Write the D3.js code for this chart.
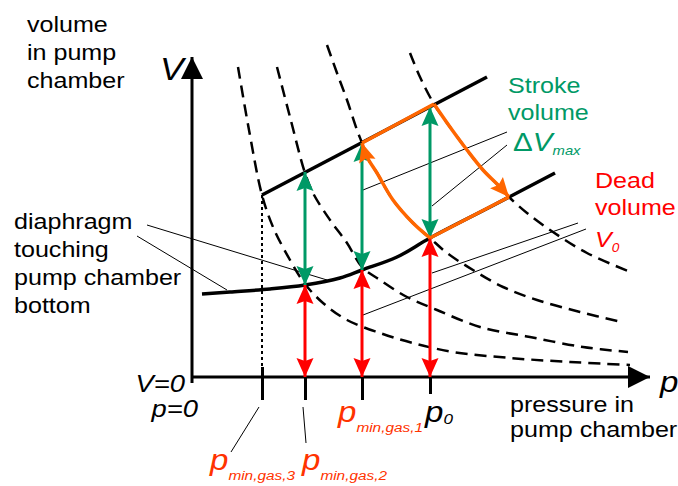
<!DOCTYPE html>
<html>
<head>
<meta charset="utf-8">
<script src="https://cdn.jsdelivr.net/npm/d3@7"></script>
<style>
  html, body { margin: 0; padding: 0; background: #fff; }
  svg { display: block; font-family: "Liberation Sans", Arial, sans-serif; }
</style>
</head>
<body>
<svg id="chart" width="678" height="486"></svg>
<script>
// Pressure p and pump-chamber volume V, arbitrary units.
const tickNames = ["min,gas,3", "min,gas,2", "min,gas,1", "0"];
const tickPressures = [7.0, 11.3, 17.0, 23.8];

// Stroke / dead volume at p_min,gas,2, p_min,gas,1 and p_0
const strokePressures = [11.3, 17.0, 23.8];
const deadVolumes = [9.2, 10.7, 13.9];
const maxVolumes = [20.5, 23.4, 27.0];

// Diaphragm end positions: fully deflected (top) and touching the bottom
const upperBoundary = [[7.0, 18.2], [29.5, 30.0]];
const lowerBoundary = [[1.0, 8.3], [3.8, 8.5], [7.8, 8.8], [11.3, 9.2], [14.8, 9.9], [17.0, 10.7],
  [20.5, 12.0], [23.8, 13.9], [30.0, 17.1], [36.3, 20.4]];

// Isotherms of the enclosed gas
const isothermA = [[4.6, 31.0], [5.7, 24.7], [7.0, 18.2], [8.1, 15.0], [9.8, 11.7], [11.3, 9.3],
  [13.1, 7.4], [15.5, 5.7], [18.8, 4.4], [22.1, 3.4], [26.1, 2.5], [31.8, 1.9], [37.8, 1.5], [43.8, 1.2]];
const isothermB = [[8.5, 31.0], [9.8, 26.0], [11.3, 20.4], [12.1, 18.4], [13.8, 15.7], [15.5, 13.4],
  [17.0, 11.0], [18.8, 9.7], [21.5, 8.0], [24.5, 6.7], [28.8, 5.0], [33.8, 4.0], [39.1, 3.0], [43.6, 2.5]];
const isothermC = [[13.5, 33.2], [14.5, 30.4], [15.5, 27.7], [16.5, 24.7], [17.0, 23.4], [17.5, 22.0],
  [18.5, 20.4], [20.1, 17.7], [22.1, 15.4], [23.8, 13.9], [25.5, 12.4], [28.1, 10.7], [31.1, 9.0],
  [34.5, 7.7], [38.8, 6.5], [43.0, 5.5]];
const isothermD = [[21.8, 32.4], [22.8, 30.0], [24.2, 27.3], [25.8, 25.0], [27.5, 22.7], [29.1, 20.7],
  [30.8, 19.0], [31.7, 18.0], [33.5, 16.4], [36.1, 14.5], [39.5, 12.4], [44.1, 10.4]];

// Pump cycle corners
const cycleTop = [[17.0, 23.4], [24.2, 27.3]];
const cycleBottom = [[31.7, 18.0], [23.8, 13.9]];

// Leader lines from the labels to the marks
const leaders = [
  [[-4.5, 15.2], [13.5, 9.7]],
  [[-5.5, 14.1], [3.5, 8.7]],
  [[31.5, 24.5], [17.1, 18.7]],
  [[31.5, 23.2], [24.0, 17.1]],
  [[38.6, 15.4], [24.0, 10.4]],
  [[39.4, 14.8], [17.1, 6.2]],
  [[6.7, -3.0], [3.9, -7.5]],
  [[11.1, -3.0], [11.4, -6.6]]
];

const GREEN = "#009966", RED = "#ff0000", ORANGE = "#ff6600", TICKRED = "#ff3300";
const SX = 1.14;

const svg = d3.select("#chart");
const x = d3.scaleLinear().domain([0, 46]).range([192, 652]);
const y = d3.scaleLinear().domain([0, 32]).range([377, 57]);

const straight = d3.line().x(d => x(d[0])).y(d => y(d[1]));
const smooth = d3.line().x(d => x(d[0])).y(d => y(d[1])).curve(d3.curveCatmullRom.alpha(0.5));

// Arrowheads
const defs = svg.append("defs");
function marker(id, color, len, half, notch) {
  defs.append("marker")
    .attr("id", id)
    .attr("markerUnits", "userSpaceOnUse")
    .attr("viewBox", `${-len - 1} ${-half - 1} ${len + 2} ${2 * half + 2}`)
    .attr("refX", 0).attr("refY", 0)
    .attr("markerWidth", len + 2).attr("markerHeight", 2 * half + 2)
    .attr("orient", "auto-start-reverse")
    .append("path")
    .attr("d", `M0,0L${-len},${-half}L${-len + notch},0L${-len},${half}Z`)
    .attr("fill", color);
}
marker("ah-axis", "#000", 22, 11, 0);
marker("ah-green", GREEN, 19, 8.5, 3);
marker("ah-red", RED, 19, 8.5, 3);
marker("ah-orange", ORANGE, 19, 8.5, 3);

// Isotherms
[isothermA, isothermB, isothermC, isothermD].forEach(iso => {
  svg.append("path").attr("d", smooth(iso))
    .attr("fill", "none").attr("stroke", "#000")
    .attr("stroke-width", 2.5).attr("stroke-dasharray", "12,7");
});

// Dotted line below the start of the upper boundary
svg.append("path").attr("d", straight([[tickPressures[0], upperBoundary[0][1]], [tickPressures[0], 1.0]]))
  .attr("fill", "none").attr("stroke", "#000").attr("stroke-width", 2).attr("stroke-dasharray", "3,3");

// Axes
svg.append("path").attr("d", straight([[0, 0], [45.8, 0]]))
  .attr("stroke", "#000").attr("stroke-width", 3).attr("marker-end", "url(#ah-axis)");
svg.append("path").attr("d", straight([[0, -0.6], [0, 32]]))
  .attr("stroke", "#000").attr("stroke-width", 3).attr("marker-end", "url(#ah-axis)");

const axisG = svg.append("g")
  .attr("transform", `translate(0,${y(0)})`)
  .call(d3.axisBottom(x).tickValues(tickPressures).tickSize(23).tickSizeOuter(0).tickFormat(""));
axisG.select(".domain").remove();
axisG.selectAll(".tick line")
  .attr("stroke", "#000").attr("stroke-width", 3)
  .attr("y1", (d, i) => i === 0 ? -10 : 0)
  .attr("y2", (d, i) => i === 3 ? 17 : 23);

// Diaphragm boundaries
svg.append("path").attr("d", straight(upperBoundary))
  .attr("fill", "none").attr("stroke", "#000").attr("stroke-width", 3.5);
svg.append("path").attr("d", smooth(lowerBoundary))
  .attr("fill", "none").attr("stroke", "#000").attr("stroke-width", 3.5);

// Leader lines
leaders.forEach(l => {
  svg.append("path").attr("d", straight(l))
    .attr("stroke", "#000").attr("stroke-width", 1);
});

// Dead volume (red) and stroke volume (green) arrows
strokePressures.forEach((p, i) => {
  svg.append("path").attr("d", straight([[p, 0], [p, deadVolumes[i]]]))
    .attr("stroke", RED).attr("stroke-width", 3)
    .attr("marker-start", "url(#ah-red)").attr("marker-end", "url(#ah-red)");
  svg.append("path").attr("d", straight([[p, deadVolumes[i]], [p, maxVolumes[i]]]))
    .attr("stroke", GREEN).attr("stroke-width", 3)
    .attr("marker-start", "url(#ah-green)").attr("marker-end", "url(#ah-green)");
});

// Pump cycle
const expansion = isothermD.filter(d => d[0] >= cycleTop[1][0] && d[0] <= cycleBottom[0][0]);
const compression = isothermC.filter(d => d[0] >= cycleTop[0][0] && d[0] <= cycleBottom[1][0]).reverse();
const orange = g => g.attr("fill", "none").attr("stroke", ORANGE).attr("stroke-width", 3.5).attr("stroke-linejoin", "round");
svg.append("path").attr("d", straight(cycleTop)).call(orange);
svg.append("path").attr("d", smooth(expansion)).call(orange).attr("marker-end", "url(#ah-orange)");
svg.append("path").attr("d", straight(cycleBottom)).call(orange);
svg.append("path").attr("d", smooth(compression)).call(orange).attr("marker-end", "url(#ah-orange)");

// Text
function addText(px, py, parts, anchor) {
  const t = svg.append("text")
    .attr("transform", `translate(${px},${py}) scale(${SX},1)`)
    .attr("text-anchor", anchor || "start");
  parts.forEach(pt => {
    t.append("tspan").text(pt.text)
      .attr("font-size", pt.size)
      .attr("font-style", pt.italic ? "italic" : "normal")
      .attr("fill", pt.color || "#000")
      .attr("dy", pt.dy || 0);
  });
}
const plain = (s, color) => [{ text: s, size: 22, color }];

addText(27, 32, plain("volume"));
addText(27, 60, plain("in pump"));
addText(27, 88, plain("chamber"));
addText(14, 229, plain("diaphragm"));
addText(14, 257, plain("touching"));
addText(14, 285, plain("pump chamber"));
addText(14, 313, plain("bottom"));
addText(510, 412, plain("pressure in"));
addText(510, 437, plain("pump chamber"));

addText(508, 93, plain("Stroke", GREEN));
addText(508, 120, plain("volume", GREEN));
addText(513, 151, [
  { text: "\u0394", size: 26, color: GREEN },
  { text: "V", size: 26, italic: true, color: GREEN },
  { text: "max", size: 13, italic: true, color: GREEN, dy: 4 }
]);

addText(595, 188, plain("Dead", RED));
addText(595, 215, plain("volume", RED));
addText(595, 247, [
  { text: "V", size: 22, italic: true, color: RED },
  { text: "0", size: 12, italic: true, color: RED, dy: 5 }
]);

addText(160, 80, [{ text: "V", size: 31, italic: true }]);
addText(660, 392, [{ text: "p", size: 29, italic: true }]);
addText(185, 392, [{ text: "V=0", size: 24, italic: true }], "end");
addText(198, 417, [{ text: "p=0", size: 24, italic: true }], "end");

// Tick labels (label offset relative to the tick, baseline)
const tickLabelPos = [[-52, 470], [-3, 470], [-24, 422], [-5, 422]];
tickPressures.forEach((p, i) => {
  const isRef = i === 3;
  const col = isRef ? "#000" : TICKRED;
  addText(x(p) + tickLabelPos[i][0], tickLabelPos[i][1], [
    { text: "p", size: 29, italic: true, color: col },
    { text: tickNames[i], size: isRef ? 15 : 13.5, italic: true, color: col, dy: isRef ? 2 : 10 }
  ]);
});
</script>
</body>
</html>
